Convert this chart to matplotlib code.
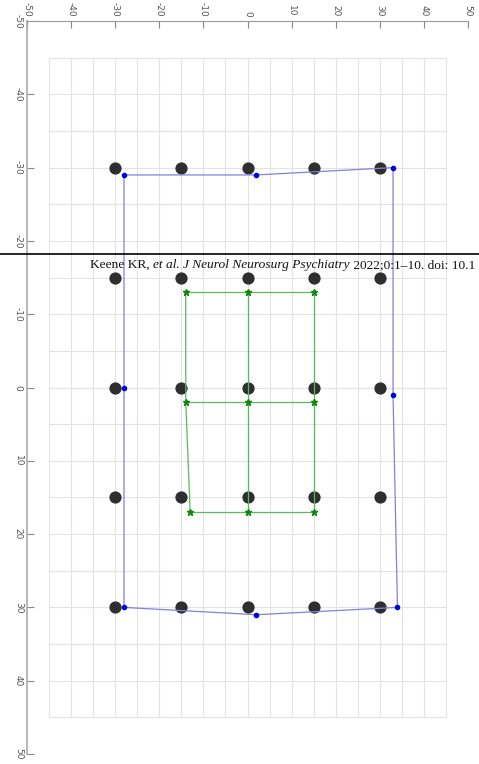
import numpy as np
import matplotlib
matplotlib.use("Agg")
import matplotlib.pyplot as plt

# ---- data ----
ref_x = [-30, -15, 0, 15, 30]
ref_y = [-30, -15, 0, 15, 30]

blue_x = [-28, 2, 33, 33, 34, 2, -28, -28, -28]
blue_y = [-29, -29, -30, 1, 30, 31, 30, 0, -29]

green_rows_x = [[-14, 0, 15], [-14, 0, 15], [-13, 0, 15]]
green_rows_y = [[-13, -13, -13], [2, 2, 2], [17, 17, 17]]

ticks = [-50, -40, -30, -20, -10, 0, 10, 20, 30, 40, 50]
grid_vals = list(range(-45, 50, 5))

citation_parts = [("Keene KR, ", "normal"),
                  ("et al", "italic"),
                  (". ", "normal"),
                  ("J Neurol Neurosurg Psychiatry", "italic"),
                  (" 2022;0:1\u201310. doi: 10.1", "normal")]

# ---- figure ----
fig = plt.figure(figsize=(4.79, 7.64), dpi=100)
ax = fig.add_axes([27 / 479, 10 / 764, (468 - 27) / 479, (754 - 21) / 764])
ax.set_xlim(-50, 50)
ax.set_ylim(50, -50)

# bounded grid
ax.vlines(grid_vals, -45, 45, color="#e3e3e3", lw=0.8, zorder=0)
ax.hlines(grid_vals, -45, 45, color="#e3e3e3", lw=0.8, zorder=0)

# reference dots
gx, gy = np.meshgrid(ref_x, ref_y)
ax.plot(gx.ravel(), gy.ravel(), "o", color="#2e2e2e", ms=7.8, zorder=3, ls="none")

# blue polygon
ax.plot(blue_x, blue_y, "-", color="#8080e6", lw=0.9, zorder=4)
ax.plot(blue_x[:-1], blue_y[:-1], "o", color="#0000dd", ms=3.0, zorder=5, ls="none")

# green grid
gxa = np.array(green_rows_x)
gya = np.array(green_rows_y)
for i in range(3):
    ax.plot(gxa[i], gya[i], "-", color="#5cb85c", lw=0.9, zorder=4)
    ax.plot(gxa[:, i], gya[:, i], "-", color="#5cb85c", lw=0.9, zorder=4)
ax.plot(gxa.ravel(), gya.ravel(), "*", color="#0a8a0a", ms=5, zorder=5, ls="none")

# axes styling
ax.xaxis.tick_top()
ax.set_xticks(ticks)
ax.set_yticks(ticks)
ax.set_xticklabels([str(t) for t in ticks], rotation=-90, fontsize=6.5, color="#555555")
ax.set_yticklabels([str(t) for t in ticks], rotation=-90, fontsize=6.5, color="#555555",
                   va="center")
ax.tick_params(axis="both", direction="in", length=5, width=0.8, color="#888888", pad=3)
for s in ["right", "bottom"]:
    ax.spines[s].set_visible(False)
ax.spines["top"].set_color("#999999")
ax.spines["left"].set_color("#aaaaaa")
ax.spines["left"].set_linewidth(1.2)
ax.patch.set_alpha(0)

# citation overlay
fig.add_artist(plt.Line2D([0, 1], [1 - 253.5 / 764, 1 - 253.5 / 764],
                          transform=fig.transFigure, color="black", lw=1.2))
fig.canvas.draw()
renderer = fig.canvas.get_renderer()
xpix = 90
ybase = 764 - 268
for txt, style in citation_parts:
    t = fig.text(xpix / 479, ybase / 764, txt, family="Liberation Serif", style=style,
                 fontsize=9.6, color="#111111", ha="left", va="baseline")
    bb = t.get_window_extent(renderer)
    xpix = bb.x1

fig.savefig("out.png", dpi=100)
